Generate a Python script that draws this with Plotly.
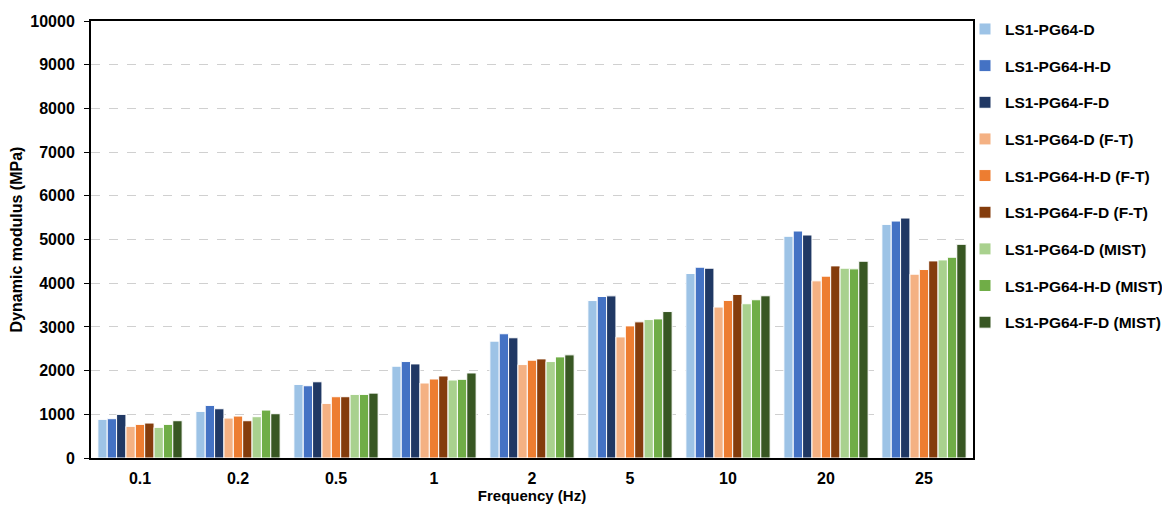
import plotly.graph_objects as go

categories = ["0.1", "0.2", "0.5", "1", "2", "5", "10", "20", "25"]

series_names = [
    "LS1-PG64-D", "LS1-PG64-H-D", "LS1-PG64-F-D",
    "LS1-PG64-D (F-T)", "LS1-PG64-H-D (F-T)", "LS1-PG64-F-D (F-T)",
    "LS1-PG64-D (MIST)", "LS1-PG64-H-D (MIST)", "LS1-PG64-F-D (MIST)",
]

ls1_d = [884, 1066, 1683, 2100, 2674, 3603, 4222, 5073, 5346]
ls1_h_d = [899, 1203, 1653, 2207, 2843, 3695, 4366, 5194, 5422]
ls1_f_d = [998, 1127, 1744, 2153, 2751, 3710, 4343, 5103, 5491]
ls1_d_ft = [724, 914, 1249, 1716, 2138, 2771, 3454, 4054, 4206]
ls1_h_d_ft = [769, 960, 1402, 1808, 2238, 3023, 3606, 4161, 4313]
ls1_f_d_ft = [800, 853, 1402, 1877, 2268, 3115, 3743, 4396, 4510]
ls1_d_mist = [701, 945, 1455, 1785, 2207, 3168, 3530, 4343, 4533]
ls1_h_d_mist = [769, 1097, 1455, 1801, 2314, 3183, 3621, 4328, 4594]
ls1_f_d_mist = [853, 1013, 1485, 1946, 2360, 3351, 3712, 4503, 4890]

values = [ls1_d, ls1_h_d, ls1_f_d, ls1_d_ft, ls1_h_d_ft, ls1_f_d_ft,
          ls1_d_mist, ls1_h_d_mist, ls1_f_d_mist]

colors = ["#9DC3E6", "#4472C4", "#203864",
          "#F4B183", "#ED7D31", "#843C0C",
          "#A9D18E", "#70AD47", "#385723"]

y_ticks = list(range(0, 10001, 1000))
y_tick_labels = [str(v) for v in y_ticks]

fig = go.Figure()
for i, (name, vals, col) in enumerate(zip(series_names, values, colors)):
    fig.add_trace(go.Bar(
        x=categories, y=vals, name=name, legendgroup=f"g{i}",
        marker=dict(color=col, line=dict(color="white", width=1)),
    ))

font_family = "Liberation Sans, Arial, sans-serif"

# page body has an 8px margin, so the figure is sized/offset accordingly
fig.update_layout(
    width=1154, height=498,
    margin=dict(l=83, r=189, t=13, b=48, autoexpand=False),
    paper_bgcolor="white", plot_bgcolor="white",
    barmode="group", bargap=0.14, bargroupgap=0,
    font=dict(family=font_family, color="black", size=16),
    legend=dict(
        xref="container", yref="container",
        x=957 / 1154, xanchor="left", y=1 - 4.4 / 498, yanchor="top",
        bgcolor="rgba(0,0,0,0)",
        font=dict(family=font_family, size=15.5, color="black", weight="bold"),
        tracegroupgap=13.5, itemwidth=30, maxheight=480,
    ),
    xaxis=dict(
        type="category", automargin=False,
        title=dict(text="<b>Frequency (Hz)</b>", standoff=4,
                   font=dict(size=15, family=font_family)),
        tickfont=dict(size=16, family=font_family, weight="bold"),
        ticklabelstandoff=5,
        showline=True, linecolor="black", linewidth=2, mirror=True,
        ticks="", showgrid=False,
    ),
    yaxis=dict(
        range=[0, 10000], tickvals=y_ticks, ticktext=y_tick_labels,
        automargin=False,
        title=dict(text="<b>Dynamic modulus (MPa)</b>", standoff=7,
                   font=dict(size=16, family=font_family)),
        tickfont=dict(size=16, family=font_family, weight="bold"),
        ticklabelstandoff=6,
        showline=True, linecolor="black", linewidth=2, mirror=True,
        ticks="outside", ticklen=5, tickcolor="black",
        showgrid=True, gridcolor="#D0D0D0", griddash="dash", gridwidth=1,
        zeroline=False,
    ),
)

fig.write_html("out.html")
